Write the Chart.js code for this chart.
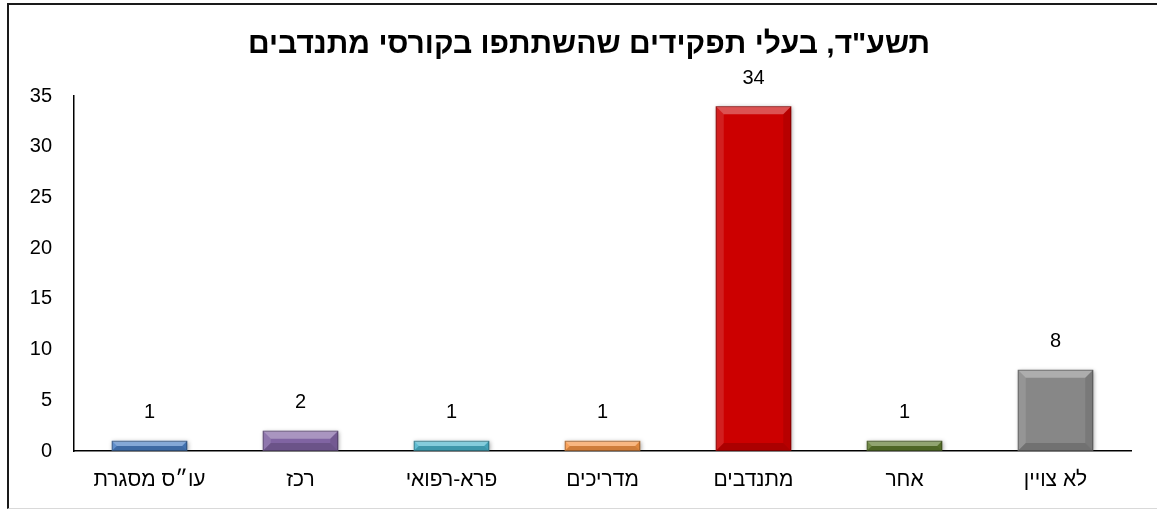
<!DOCTYPE html>
<html lang="he">
<head>
<meta charset="utf-8">
<script src="https://cdn.jsdelivr.net/npm/chart.js@4.4.0/dist/chart.umd.min.js"></script>
<style>
  html, body { margin: 0; padding: 0; background: #fff; }
  #wrap { position: relative; width: 1157px; height: 509px; }
  #mychart { position: absolute; left: 0; top: 0; }
  #frame {
    position: absolute; left: 7px; top: 3px; width: 1160px; height: 503px;
    border-top: 2px solid #1a1a1a; border-left: 2px solid #1a1a1a;
    border-bottom: 1px solid #d9d9d9; pointer-events: none;
  }
</style>
</head>
<body>
<div id="wrap">
  <canvas id="mychart" width="1157" height="509"></canvas>
  <div id="frame"></div>
</div>
<script>
// data
var titleText = 'תשע"ד, בעלי תפקידים שהשתתפו בקורסי מתנדבים';
var labels = ['עו״ס מסגרת', 'רכז', 'פרא-רפואי', 'מדריכים', 'מתנדבים', 'אחר', 'לא צויין'];
var values = [1, 2, 1, 1, 34, 1, 8];
var colorbox = ['#4A7FC4', '#8064A2', '#4BB4CC', '#F79646', '#CC0000', '#5E7A2E', '#878787'];
var yTicks = [0, 5, 10, 15, 20, 25, 30, 35];

var fontName = '"Liberation Sans", Arial, sans-serif';

// bevel look on each bar, like the office chart
var bevelPlugin = {
    id: 'bevel',
    beforeDatasetDraw: function (chart) {
        var ctx = chart.ctx;
        ctx.save();
        ctx.shadowColor = 'rgba(0,0,0,0.35)';
        ctx.shadowBlur = 4;
        ctx.shadowOffsetX = 1;
        ctx.shadowOffsetY = 1;
    },
    afterDatasetDraw: function (chart) {
        var ctx = chart.ctx;
        ctx.restore();
        var meta = chart.getDatasetMeta(0);
        meta.data.forEach(function (bar) {
            var l = bar.x - bar.width / 2;
            var r = bar.x + bar.width / 2;
            var t = bar.y;
            var b = bar.base;
            var h = b - t;
            var bv = Math.min(8, h / 2, bar.width / 4);
            ctx.save();
            // top
            ctx.fillStyle = 'rgba(255,255,255,0.32)';
            ctx.beginPath();
            ctx.moveTo(l, t); ctx.lineTo(r, t); ctx.lineTo(r - bv, t + bv); ctx.lineTo(l + bv, t + bv);
            ctx.closePath(); ctx.fill();
            // left
            ctx.fillStyle = 'rgba(255,255,255,0.12)';
            ctx.beginPath();
            ctx.moveTo(l, t); ctx.lineTo(l + bv, t + bv); ctx.lineTo(l + bv, b - bv); ctx.lineTo(l, b);
            ctx.closePath(); ctx.fill();
            // right
            ctx.fillStyle = 'rgba(0,0,0,0.10)';
            ctx.beginPath();
            ctx.moveTo(r, t); ctx.lineTo(r - bv, t + bv); ctx.lineTo(r - bv, b - bv); ctx.lineTo(r, b);
            ctx.closePath(); ctx.fill();
            // bottom
            ctx.fillStyle = 'rgba(0,0,0,0.16)';
            ctx.beginPath();
            ctx.moveTo(l, b); ctx.lineTo(r, b); ctx.lineTo(r - bv, b - bv); ctx.lineTo(l + bv, b - bv);
            ctx.closePath(); ctx.fill();
            ctx.strokeStyle = 'rgba(0,0,0,0.3)';
            ctx.lineWidth = 1;
            ctx.strokeRect(l + 0.5, t + 0.5, r - l - 1, h - 1);
            ctx.restore();
        });
    }
};

// value above each bar
var valueLabels = {
    id: 'valueLabels',
    afterDatasetsDraw: function (chart) {
        var ctx = chart.ctx;
        var meta = chart.getDatasetMeta(0);
        ctx.save();
        ctx.font = '20px ' + fontName;
        ctx.fillStyle = '#000';
        ctx.textAlign = 'center';
        ctx.textBaseline = 'middle';
        meta.data.forEach(function (bar, i) {
            ctx.fillText(String(values[i]), bar.x, bar.y - 28);
        });
        ctx.restore();
    }
};

// title is centred on the whole frame (which runs past the right edge), so draw it by hand
var frameTitle = {
    id: 'frameTitle',
    afterDraw: function (chart) {
        var ctx = chart.ctx;
        ctx.save();
        ctx.font = 'bold 30px ' + fontName;
        ctx.fillStyle = '#000';
        ctx.textAlign = 'center';
        ctx.textBaseline = 'middle';
        ctx.fillText(titleText, 589, 45);
        ctx.restore();
    }
};

let ctx = document.getElementById('mychart').getContext('2d');

let mychart = new Chart(ctx, {
    type: 'bar',
    data: {
        labels: labels,
        datasets: [{
            data: values,
            backgroundColor: colorbox,
            borderWidth: 0,
            barPercentage: 0.5,
            categoryPercentage: 1
        }]
    },
    options: {
        responsive: false,
        animation: false,
        layout: { padding: { left: 8, right: 26, top: 96, bottom: 0 } },
        plugins: {
            legend: { display: false },
            tooltip: { enabled: false },
            title: { display: false }
        },
        scales: {
            y: {
                min: 0,
                max: 35,
                afterBuildTicks: function (axis) {
                    axis.ticks = yTicks.map(function (v) { return { value: v }; });
                },
                afterFit: function (axis) { axis.width = 66; },
                grid: { display: false, drawTicks: false },
                border: { display: true, color: '#000', width: 1.5 },
                ticks: {
                    padding: 22,
                    color: '#000',
                    font: { family: fontName, size: 20 }
                }
            },
            x: {
                afterFit: function (axis) { axis.height = 58; },
                grid: { display: false, drawTicks: false },
                border: { display: true, color: '#000', width: 1.5 },
                ticks: {
                    padding: 17,
                    color: '#000',
                    font: { family: fontName, size: 21 }
                }
            }
        }
    },
    plugins: [bevelPlugin, valueLabels, frameTitle]
});
</script>
</body>
</html>
